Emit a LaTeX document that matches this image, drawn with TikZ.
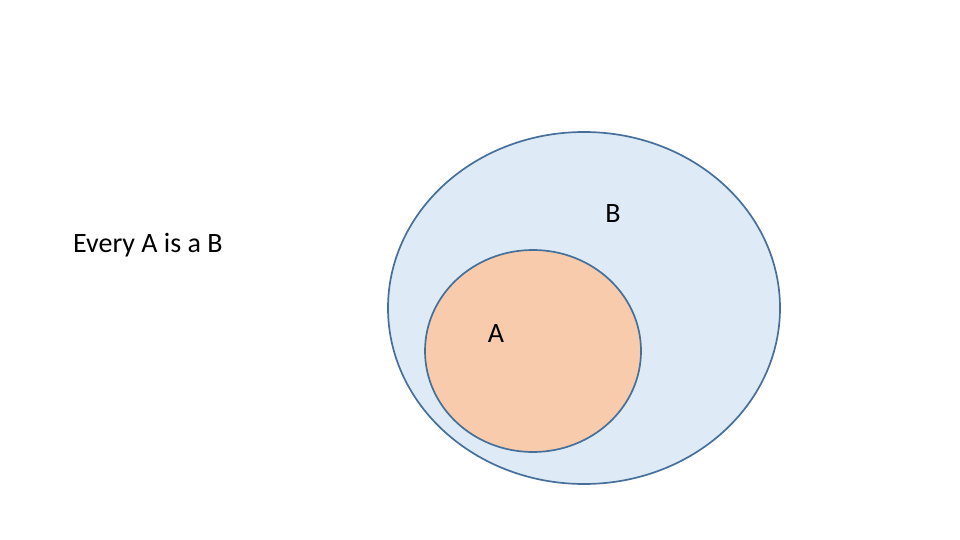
\documentclass[tikz,border=0pt]{standalone}
\usepackage{fontspec}
\setmainfont{Carlito}
\definecolor{bfill}{HTML}{DEEBF7}
\definecolor{afill}{HTML}{F8CBAD}
\definecolor{edge}{HTML}{46709A}
\begin{document}
\begin{tikzpicture}[x=1pt,y=-1pt,
  setB/.style={draw=edge, fill=bfill, line width=1.7pt},
  setA/.style={draw=edge, fill=afill, line width=1.7pt},
  lbl/.style={inner sep=0pt, font=\fontsize{28}{32}\selectfont}]
\useasboundingbox (0,0) rectangle (960,540);
\path[setB] (584,308) ellipse [x radius=196, y radius=176];
\path[setA] (533,351) ellipse [x radius=108, y radius=101];
\node[lbl, anchor=base west] (t) at (73,252) {Every A is a B};
\node[lbl, anchor=base] (b) at (613,222) {B};
\node[lbl, anchor=base] (a) at (496,342) {A};
\end{tikzpicture}
\end{document}
